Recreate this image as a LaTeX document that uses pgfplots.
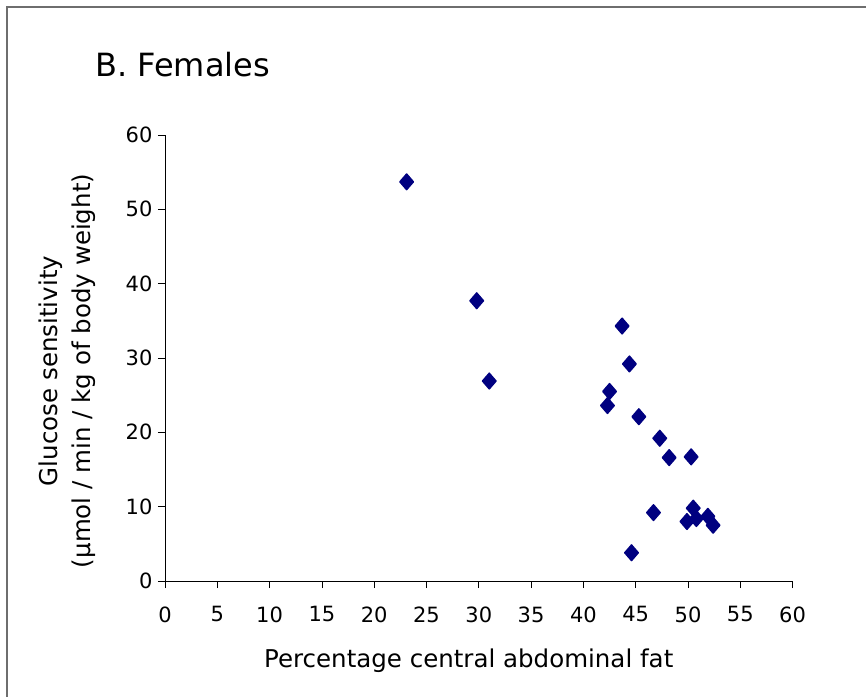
\documentclass[border=0pt]{standalone}
\usepackage{fontspec}
\setmainfont{DejaVu Sans}
\usepackage{pgfplots}
\pgfplotsset{compat=1.18}

\definecolor{navy}{RGB}{0,0,128}
\definecolor{framegray}{RGB}{110,110,110}

\begin{document}
\begin{tikzpicture}[x=1pt,y=1pt]
\useasboundingbox (0,0) rectangle (866,696);
% frame around the chart area (only top and left edges fall inside)
\draw[framegray, line width=1.6pt] (7,-5) -- (7,689) -- (880,689);
\node[anchor=base west, inner sep=0pt, font=\fontsize{32}{38}\selectfont] at (95,619) {B. Females};

\begin{axis}[
  at={(165pt,115pt)}, anchor=south west,
  width=627.6pt, height=446pt, scale only axis,
  xmin=0, xmax=60, ymin=0, ymax=60,
  xtick={0,5,...,60}, ytick={0,10,...,60},
  axis lines*=left,
  axis line style={black, line width=0.8pt},
  tick align=outside, major tick length=7pt,
  tick style={black, line width=0.8pt},
  /pgf/number format/assume math mode=true,
  ticklabel style={font=\fontsize{21}{25}\selectfont},
  xticklabel style={yshift=-15pt},
  yticklabel style={xshift=-2pt},
  xlabel={Percentage central abdominal fat},
  ylabel={Glucose sensitivity\\(µmol / min / kg of body weight)},
  xlabel style={at={(rel axis cs:0.484,-0.195)}, anchor=base, inner sep=0pt,
    font=\fontsize{24.5}{33}\selectfont},
  ylabel style={at={(rel axis cs:-0.155,0.471)}, anchor=center, align=center,
    inner sep=0pt, font=\fontsize{24.5}{33}\selectfont},
  clip=false,
]
\addplot[only marks, mark=diamond*, mark size=7.8pt,
  mark options={fill=navy, draw=navy, line width=1.5pt, line join=round, xscale=1.15}]
  coordinates {
  (23.1,53.7) (29.8,37.7) (31.0,26.9) (43.7,34.3) (44.4,29.2)
  (42.5,25.5) (42.3,23.6) (45.3,22.1) (47.3,19.2) (48.2,16.6)
  (50.3,16.7) (46.7,9.2) (50.5,9.8) (49.9,8.0) (50.8,8.4)
  (51.9,8.7) (52.4,7.5) (44.6,3.8)
  };
\end{axis}
\end{tikzpicture}
\end{document}
